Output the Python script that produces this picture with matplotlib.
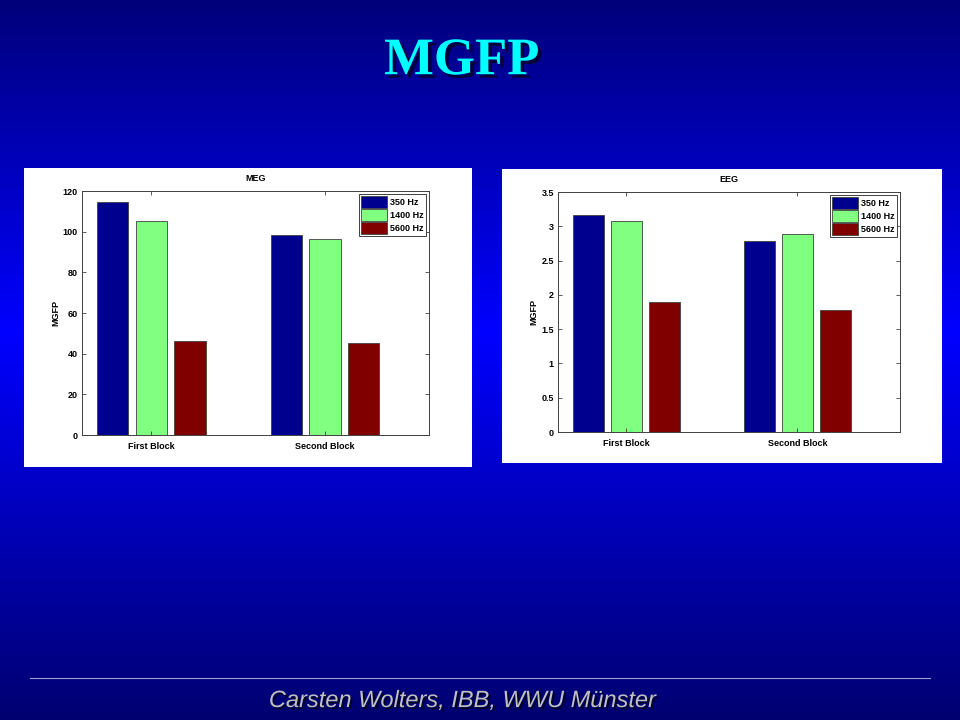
#!/usr/bin/env python3
"""
MGFP slide: grouped bar charts for MEG and EEG on a blue gradient background
"""

import numpy as np
from matplotlib import pyplot as plt
from matplotlib import patheffects as pe
from matplotlib.patches import Rectangle

# Data
groups = ['First Block', 'Second Block']
freqs = ['350 Hz', '1400 Hz', '5600 Hz']
meg_350 = [114.5, 98.5]
meg_1400 = [105.5, 96.3]
meg_5600 = [46.0, 45.5]
eeg_350 = [3.16, 2.78]
eeg_1400 = [3.08, 2.89]
eeg_5600 = [1.90, 1.78]

colors = ['#00008f', '#80ff80', '#800000']
font = 'Liberation Sans'


def bar_panel(fig, panel_rect, ax_rect, title, series, ylim, yticks, ytick_labels):
    # White panel behind the axes
    fig.patches.append(Rectangle(panel_rect[:2], panel_rect[2], panel_rect[3],
                                 transform=fig.transFigure, facecolor='white',
                                 edgecolor='none', zorder=1))
    ax = fig.add_axes(ax_rect)
    ax.set_zorder(2)
    x = np.arange(1, len(groups) + 1)
    offsets = [-0.223, 0.0, 0.223]
    for vals, off, col, lab in zip(series, offsets, colors, freqs):
        ax.bar(x + off, vals, width=0.18, color=col, edgecolor='#404040',
               linewidth=0.6, label=lab)
    ax.set_xlim(0.6, 2.6)
    ax.set_ylim(*ylim)
    ax.set_xticks(x)
    ax.set_xticklabels(groups, fontsize=6.5, fontweight='bold', family=font)
    ax.set_yticks(yticks)
    ax.set_yticklabels(ytick_labels, fontsize=6.5, fontweight='bold', family=font)
    ax.tick_params(direction='in', top=True, right=True, length=3,
                   width=0.6, color='#404040', pad=3)
    ax.tick_params(axis='x', pad=5)
    for sp in ax.spines.values():
        sp.set_color('#404040')
        sp.set_linewidth(0.7)
    ax.set_ylabel('MGFP', fontsize=6.5, fontweight='bold', family=font, labelpad=2)
    ax.set_title(title, fontsize=6.5, fontweight='bold', family=font, pad=7)
    leg = ax.legend(loc='upper right', prop={'family': font, 'weight': 'bold', 'size': 6.5},
                    fancybox=False, framealpha=1, edgecolor='#404040',
                    handlelength=2.9, handleheight=1.6, handletextpad=0.3,
                    labelspacing=0.15, borderpad=0.25, borderaxespad=0.35)
    leg.get_frame().set_linewidth(0.7)
    return ax


fig = plt.figure(figsize=(9.6, 7.2), dpi=100)

# Vertical blue gradient background
bg = fig.add_axes([0, 0, 1, 1])
bg.set_zorder(0)
ys = np.linspace(0, 1, 256)
dark_top = np.array([0.0, 0.0, 0.48])
bright = np.array([0.0, 0.0, 1.0])
dark_bot = np.array([0.0, 0.0, 0.44])
peak = 0.46
grad = np.zeros((256, 1, 3))
for i, t in enumerate(ys):
    if t < peak:
        grad[i, 0] = dark_top + (bright - dark_top) * (t / peak)
    else:
        grad[i, 0] = bright + (dark_bot - bright) * ((t - peak) / (1 - peak))
bg.imshow(grad, aspect='auto', extent=[0, 1, 1, 0])
bg.set_xlim(0, 1)
bg.set_ylim(1, 0)
bg.axis('off')

# Slide title
fig.text(0.481, 0.915, 'MGFP', ha='center', va='center', color='#00ffff',
         fontsize=38, fontweight='bold', family='Liberation Serif',
         path_effects=[pe.withSimplePatchShadow(offset=(2.5, -2.5),
                                                shadow_rgbFace='#000030', alpha=0.9)])

bar_panel(fig, [0.025, 0.3514, 0.4667, 0.4153], [0.0854, 0.3958, 0.3615, 0.3389],
          'MEG', [meg_350, meg_1400, meg_5600], (0, 120),
          range(0, 121, 20), [str(v) for v in range(0, 121, 20)])

eeg_ticks = [0, 0.5, 1, 1.5, 2, 2.5, 3, 3.5]
bar_panel(fig, [0.5229, 0.3569, 0.4583, 0.4083], [0.5813, 0.4, 0.3563, 0.3333],
          'EEG', [eeg_350, eeg_1400, eeg_5600], (0, 3.5),
          eeg_ticks, ['0', '0.5', '1', '1.5', '2', '2.5', '3', '3.5'])

# Footer line and author text
bg.plot([0.031, 0.969], [678 / 720, 678 / 720], color='#a0a0d0', linewidth=0.8)
fig.text(0.482, 0.027, 'Carsten Wolters, IBB, WWU Münster', ha='center', va='center',
         color='#c0c0c0', fontsize=17, style='italic', family='Liberation Sans',
         path_effects=[pe.withSimplePatchShadow(offset=(1.5, -1.5),
                                                shadow_rgbFace='#000020', alpha=0.9)])

fig.savefig('out.png', dpi=100)
